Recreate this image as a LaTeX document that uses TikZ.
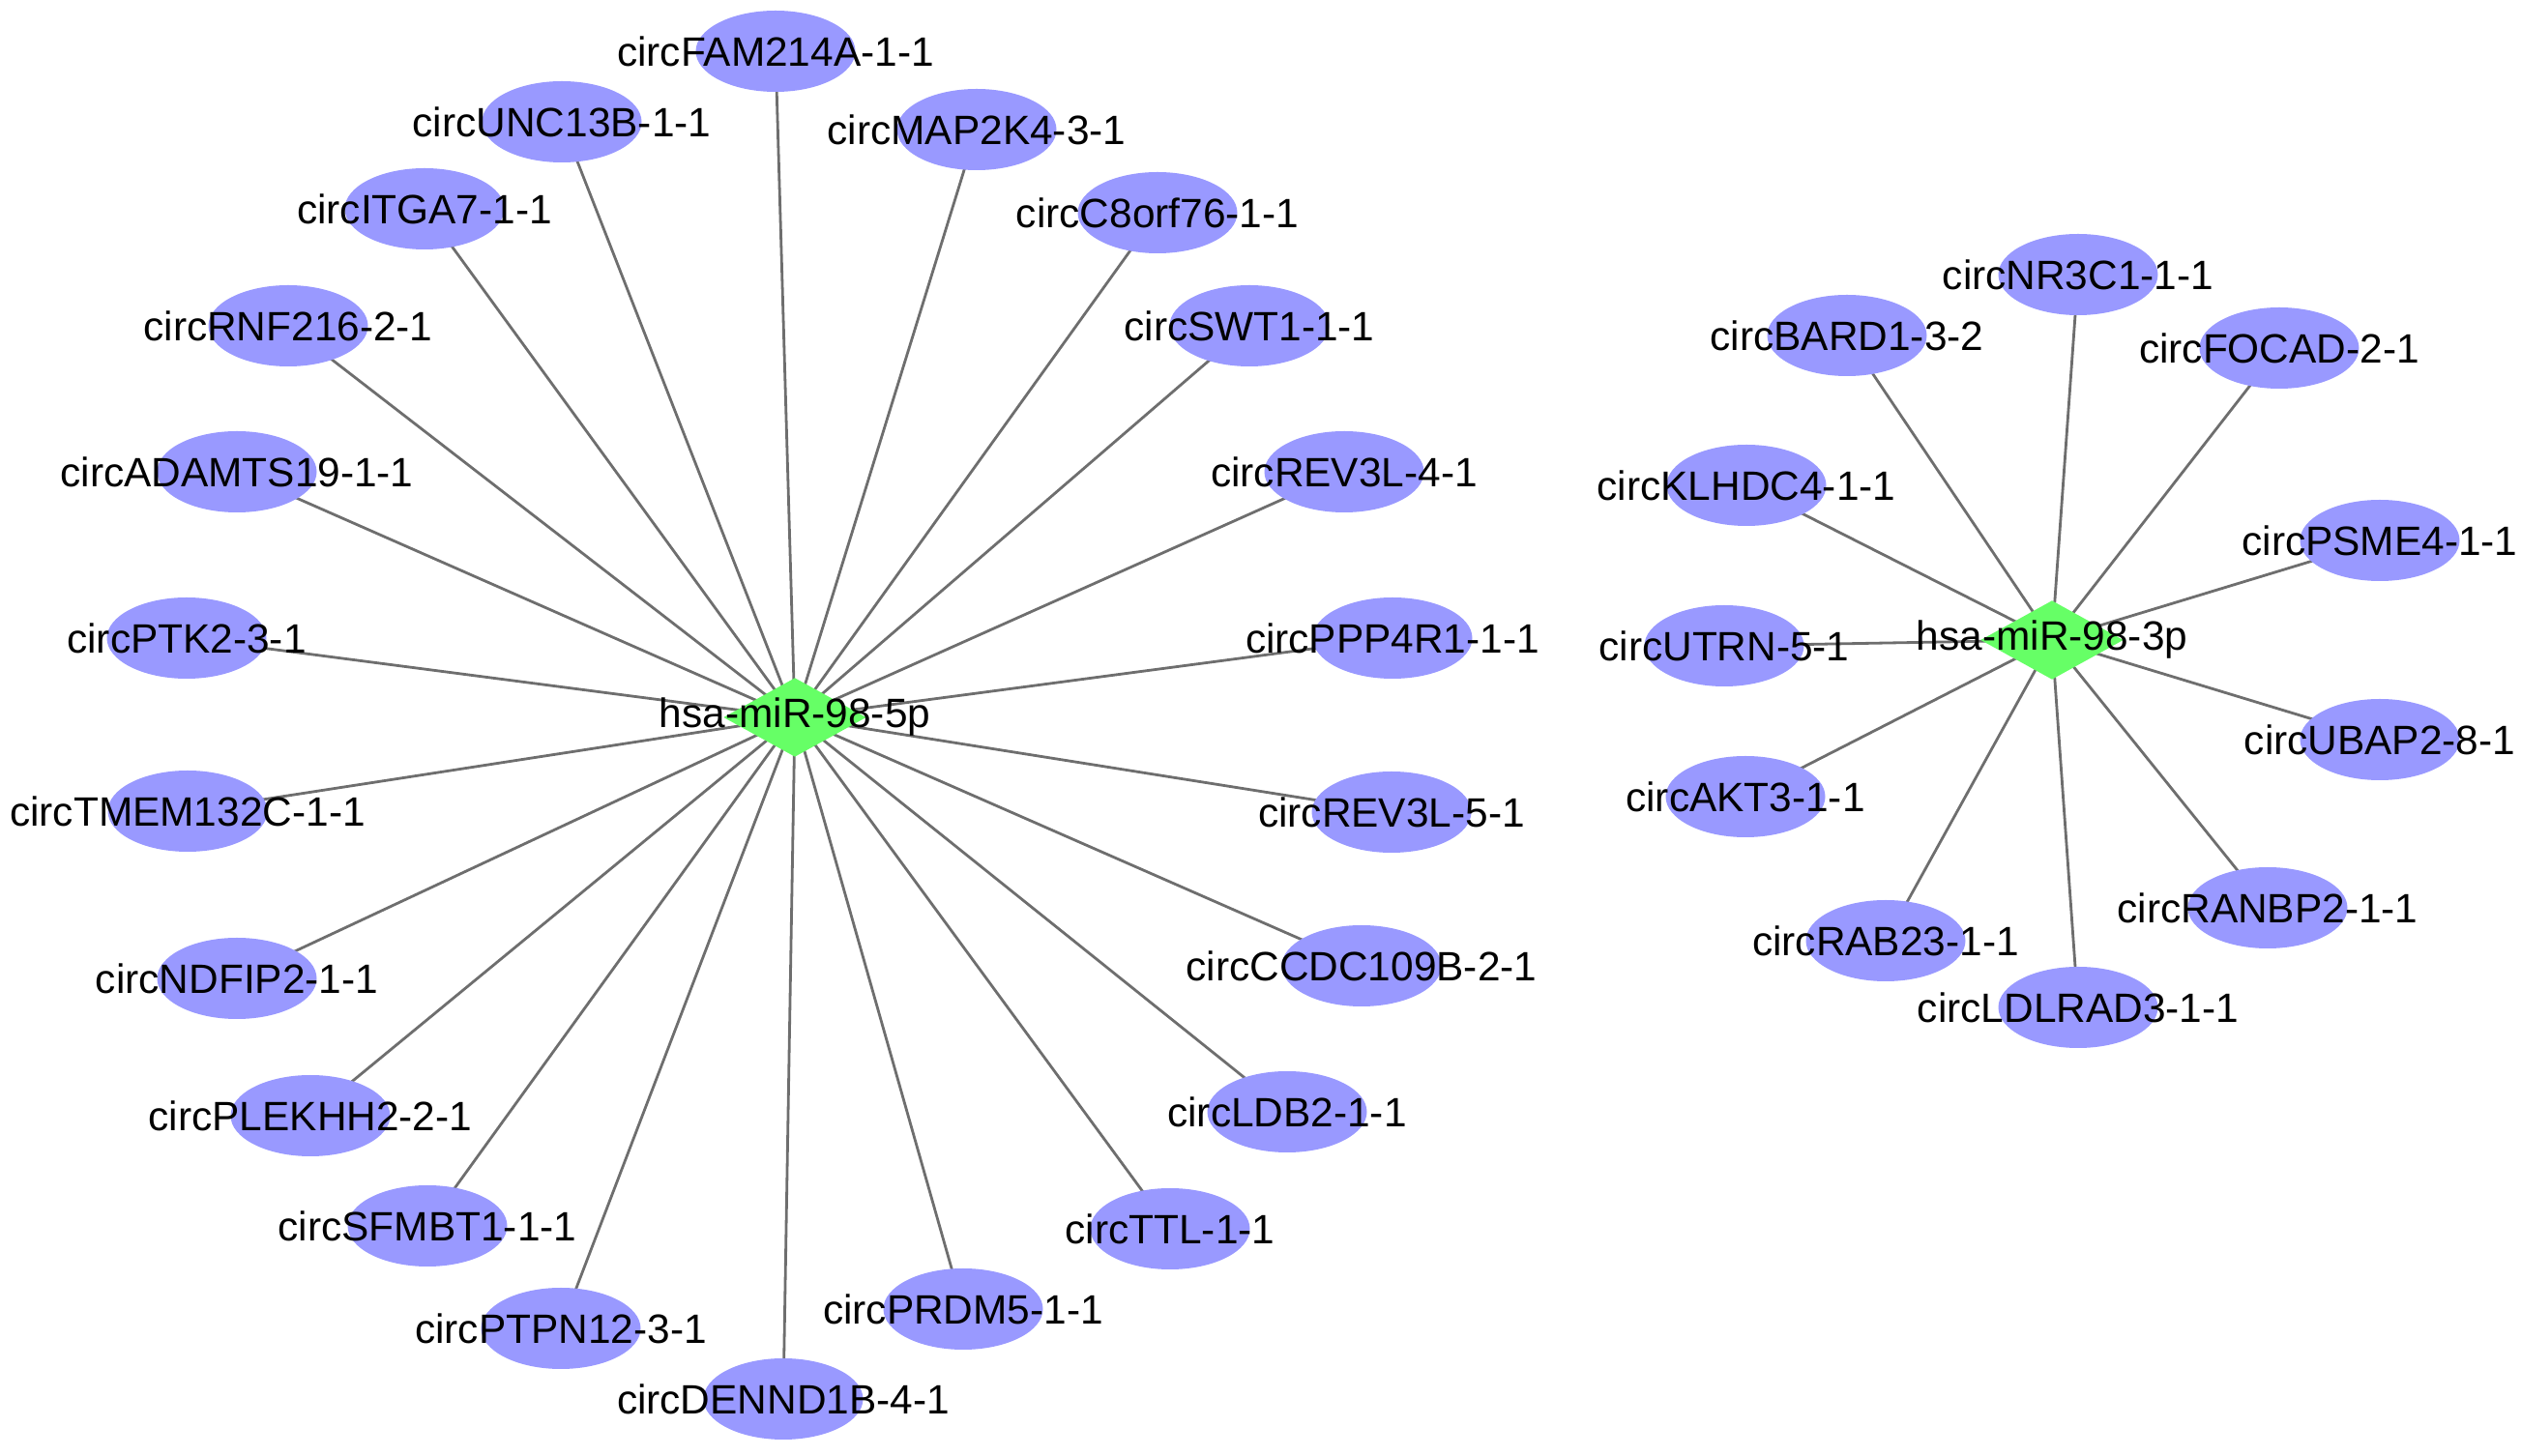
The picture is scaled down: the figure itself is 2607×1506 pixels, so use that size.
\documentclass[tikz,border=0pt]{standalone}
\usepackage{fontspec}
\setmainfont{Liberation Sans}
\usetikzlibrary{shapes.geometric,backgrounds}
\definecolor{circfill}{RGB}{153,153,255}
\definecolor{hubfill}{RGB}{102,255,102}
\definecolor{edgegray}{RGB}{110,110,110}
\begin{document}
\begin{tikzpicture}[x=0.25pt,y=-0.25pt,
  circnode/.style={ellipse, fill=circfill, draw=none, minimum width=41.25pt, minimum height=21pt, inner sep=0pt},
  hubnode/.style={diamond, fill=hubfill, draw=none, minimum width=37pt, minimum height=20.5pt, inner sep=0pt},
  lbl/.style={font=\fontsize{10.6}{12}\selectfont, text=black, inner sep=0pt},
  link/.style={draw=edgegray, line width=0.7pt}]
\useasboundingbox (0,0) rectangle (2607,1506);
% ---- hsa-miR-98-5p cluster ----
\node[circnode, label={[lbl]center:circFAM214A-1-1}] (a1) at (802,53) {};
\node[circnode, label={[lbl]center:circUNC13B-1-1}] (a2) at (581,126) {};
\node[circnode, label={[lbl]center:circITGA7-1-1}] (a3) at (439,216) {};
\node[circnode, label={[lbl]center:circRNF216-2-1}] (a4) at (298,337) {};
\node[circnode, label={[lbl]center:circADAMTS19-1-1}] (a5) at (245,488) {};
\node[circnode, label={[lbl]center:circPTK2-3-1}] (a6) at (193,660) {};
\node[circnode, label={[lbl]center:circTMEM132C-1-1}] (a7) at (194,839) {};
\node[circnode, label={[lbl]center:circNDFIP2-1-1}] (a8) at (245,1012) {};
\node[circnode, label={[lbl]center:circPLEKHH2-2-1}] (a9) at (321,1154) {};
\node[circnode, label={[lbl]center:circSFMBT1-1-1}] (a10) at (442,1268) {};
\node[circnode, label={[lbl]center:circPTPN12-3-1}] (a11) at (580,1374) {};
\node[circnode, label={[lbl]center:circDENND1B-4-1}] (a12) at (810,1447) {};
\node[circnode, label={[lbl]center:circPRDM5-1-1}] (a13) at (996,1354) {};
\node[circnode, label={[lbl]center:circTTL-1-1}] (a14) at (1210,1271) {};
\node[circnode, label={[lbl]center:circLDB2-1-1}] (a15) at (1331,1150) {};
\node[circnode, label={[lbl]center:circCCDC109B-2-1}] (a16) at (1408,999) {};
\node[circnode, label={[lbl]center:circREV3L-5-1}] (a17) at (1439,840) {};
\node[circnode, label={[lbl]center:circPPP4R1-1-1}] (a18) at (1440,660) {};
\node[circnode, label={[lbl]center:circREV3L-4-1}] (a19) at (1390,488) {};
\node[circnode, label={[lbl]center:circSWT1-1-1}] (a20) at (1292,337) {};
\node[circnode, label={[lbl]center:circC8orf76-1-1}] (a21) at (1197,220) {};
\node[circnode, label={[lbl]center:circMAP2K4-3-1}] (a22) at (1010,134) {};
\node[hubnode, label={[lbl]center:hsa-miR-98-5p}] (h5) at (822,742) {};
% ---- hsa-miR-98-3p cluster ----
\node[circnode, label={[lbl]center:circNR3C1-1-1}] (b1) at (2149,284) {};
\node[circnode, label={[lbl]center:circBARD1-3-2}] (b2) at (1910,347) {};
\node[circnode, label={[lbl]center:circFOCAD-2-1}] (b3) at (2357,360) {};
\node[circnode, label={[lbl]center:circKLHDC4-1-1}] (b4) at (1806,502) {};
\node[circnode, label={[lbl]center:circPSME4-1-1}] (b5) at (2461,559) {};
\node[circnode, label={[lbl]center:circUTRN-5-1}] (b6) at (1783,668) {};
\node[circnode, label={[lbl]center:circUBAP2-8-1}] (b7) at (2461,765) {};
\node[circnode, label={[lbl]center:circAKT3-1-1}] (b8) at (1805,824) {};
\node[circnode, label={[lbl]center:circRANBP2-1-1}] (b9) at (2345,939) {};
\node[circnode, label={[lbl]center:circRAB23-1-1}] (b10) at (1950,973) {};
\node[circnode, label={[lbl]center:circLDLRAD3-1-1}] (b11) at (2149,1042) {};
\node[hubnode, label={[lbl]center:hsa-miR-98-3p}] (h3) at (2122,662) {};
% ---- edges ----
\begin{pgfonlayer}{background}
\foreach \n in {a1,a2,a3,a4,a5,a6,a7,a8,a9,a10,a11,a12,a13,a14,a15,a16,a17,a18,a19,a20,a21,a22}
  \draw[link] (h5.center) -- (\n.center);
\foreach \n in {b1,b2,b3,b4,b5,b6,b7,b8,b9,b10,b11}
  \draw[link] (h3.center) -- (\n.center);
\end{pgfonlayer}
\end{tikzpicture}
\end{document}
